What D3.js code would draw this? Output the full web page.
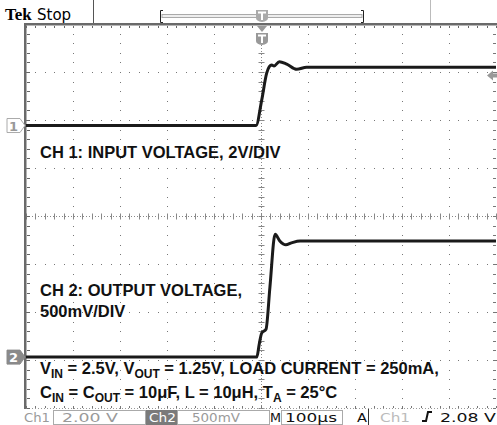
<!DOCTYPE html>
<html>
<head>
<meta charset="utf-8">
<script src="https://cdn.jsdelivr.net/npm/d3@7"></script>
<style>
body { margin: 0; background: #fff; }
svg { display: block; }
.note { font-family: "Liberation Sans", Arial, sans-serif; font-weight: bold; font-size: 16.5px; fill: #111; }
.stat { font-family: "DejaVu Sans", sans-serif; font-size: 13px; }
</style>
</head>
<body>
<div id="scope"></div>
<script>
// traces: time in us from the trigger point, volts
var ch1Time  = [-500, -10.6, 1.5, 12.1, 17.7, 22.8, 27.7, 38.9, 54.7, 76, 97, 500];
var ch1Volts = [0, 0, 1.06, 2.18, 2.45, 2.52, 2.48, 2.66, 2.56, 2.34, 2.43, 2.43];
var ch2Time  = [-500, -9, -3.6, 1.5, 10.6, 19, 30, 40, 53, 65, 83, 500];
var ch2Volts = [0, 0, 0.14, 0.25, 0.29, 0.73, 1.28, 1.21, 1.17, 1.19, 1.21, 1.21];

// scope settings
var voltsPerDiv = [2, 0.5];
var timePerDiv = 100;
var triggerLevel = 2.08;

// readout labels
var statusLabels = ["Ch1", "2.00 V", "Ch2", "500mV", "M", "100\u03bcs", "A", "Ch1", "2.08 V"];
var noteCh1 = ["CH 1: INPUT VOLTAGE, 2V/DIV"];
var noteCh2 = ["CH 2: OUTPUT VOLTAGE,", "500mV/DIV"];
var noteLine1 = [["V", 0], ["IN", 1], [" = 2.5V, V", 0], ["OUT", 1], [" = 1.25V, LOAD CURRENT = 250mA,", 0]];
var noteLine2 = [["C", 0], ["IN", 1], [" = C", 0], ["OUT", 1], [" = 10\u03bcF, L = 10\u03bcH, T", 0], ["A", 1], [" = 25\u00b0C", 0]];

var svgWidth = 497;
var svgHeight = 425;

var svg = d3.select("#scope")
  .append("svg")
  .attr("width", svgWidth)
  .attr("height", svgHeight);

// graticule: 10 x 8 divisions
var x = d3.scaleLinear().domain([-5 * timePerDiv, 5 * timePerDiv]).range([26, 496]);
var yDiv = d3.scaleLinear().domain([4, -4]).range([24, 408]);

// channel ground positions in divisions
var chPos = [1.885, -2.94];
function yCh(i, v) { return yDiv(chPos[i] + v / voltsPerDiv[i]); }

var grid = svg.append("g");
var fifths = d3.range(-20, 21).map(d => d / 5);
var fifthsT = d3.range(-25, 26).map(d => d * timePerDiv / 5);

// vertical dotted lines
d3.range(-4, 5).filter(d => d != 0).forEach(function(k) {
  var xx = Math.round(x(k * timePerDiv));
  grid.selectAll(null).data(fifths).enter().append("rect")
    .attr("x", xx).attr("y", d => Math.round(yDiv(d)))
    .attr("width", 1).attr("height", 1).attr("fill", "#777");
});
// horizontal dotted lines
d3.range(-3, 4).filter(d => d != 0).forEach(function(k) {
  var yy = Math.round(yDiv(k));
  grid.selectAll(null).data(fifthsT).enter().append("rect")
    .attr("x", d => Math.round(x(d))).attr("y", yy)
    .attr("width", 1).attr("height", 1).attr("fill", "#777");
});

// centre lines with ticks
var cx = Math.round(x(0)) + 0.5, cy = Math.round(yDiv(0)) + 0.5;
grid.append("line").attr("x1", cx).attr("x2", cx).attr("y1", 24).attr("y2", 408)
  .attr("stroke", "#888").attr("stroke-dasharray", "1,2");
grid.append("line").attr("x1", 26).attr("x2", 496).attr("y1", cy).attr("y2", cy)
  .attr("stroke", "#888").attr("stroke-dasharray", "1,2");
grid.selectAll(null).data(fifths).enter().append("line")
  .attr("x1", cx - 3).attr("x2", cx + 3)
  .attr("y1", d => Math.round(yDiv(d)) + 0.5).attr("y2", d => Math.round(yDiv(d)) + 0.5)
  .attr("stroke", "#888");
grid.selectAll(null).data(fifthsT).enter().append("line")
  .attr("y1", cy - 3).attr("y2", cy + 3)
  .attr("x1", d => Math.round(x(d)) + 0.5).attr("x2", d => Math.round(x(d)) + 0.5)
  .attr("stroke", "#888");

// edges
grid.selectAll(null).data(fifthsT).enter().append("rect")
  .attr("x", d => Math.round(x(d))).attr("y", 406).attr("width", 1).attr("height", 2).attr("fill", "#777");
grid.append("line").attr("x1", 26).attr("x2", 496).attr("y1", 408.5).attr("y2", 408.5)
  .attr("stroke", "#999").attr("stroke-dasharray", "1,2");
grid.selectAll(null).data(fifths).enter().append("rect")
  .attr("x", 493).attr("y", d => Math.round(yDiv(d))).attr("width", 3).attr("height", 1).attr("fill", "#777");
grid.selectAll(null).data(fifthsT).enter().append("rect")
  .attr("x", d => Math.round(x(d))).attr("y", 26).attr("width", 1).attr("height", 2).attr("fill", "#666");
grid.selectAll(null).data(fifths).enter().append("rect")
  .attr("x", 27).attr("y", d => Math.round(yDiv(d))).attr("width", 3).attr("height", 1).attr("fill", "#666");
grid.append("rect").attr("x", 24).attr("y", 23).attr("width", 473).attr("height", 2.5).attr("fill", "#6a6a6a");
grid.append("rect").attr("x", 24).attr("y", 23).attr("width", 2.5).attr("height", 386).attr("fill", "#6a6a6a");

// notes
function addNote(parts, px, py) {
  var t = svg.append("text").attr("class", "note").attr("x", px).attr("y", py);
  var shifted = false;
  parts.forEach(function(p) {
    var ts = t.append("tspan").text(p[0]);
    if (p[1] && !shifted) { ts.attr("dy", 4).style("font-size", "12px"); shifted = true; }
    else if (p[1]) { ts.style("font-size", "12px"); }
    else if (shifted) { ts.attr("dy", -4); shifted = false; }
  });
}
addNote([[noteCh1[0], 0]], 40, 158);
addNote([[noteCh2[0], 0]], 40, 296);
addNote([[noteCh2[1], 0]], 40, 317);
addNote(noteLine1, 40, 374);
addNote(noteLine2, 40, 398);

// traces
var line = d3.line().curve(d3.curveMonotoneX);
var ch1 = ch1Time.map((t, i) => [x(t), yCh(0, ch1Volts[i])]);
var ch2 = ch2Time.map((t, i) => [x(t), yCh(1, ch2Volts[i])]);
[ch1, ch2].forEach(function(pts) {
  svg.append("path").attr("d", line(pts))
    .attr("fill", "none").attr("stroke", "#1a1a1a").attr("stroke-width", 3)
    .attr("stroke-linejoin", "round");
});

// channel ground markers
function chMarker(yy, filled, label) {
  svg.append("path")
    .attr("d", `M7,${yy - 7} H20 L25,${yy} L20,${yy + 7} H7 Z`)
    .attr("fill", filled ? "#8a8a8a" : "#fff")
    .attr("stroke", filled ? "#8a8a8a" : "#aaa");
  svg.append("text").attr("x", 13.5).attr("y", yy + 5).attr("text-anchor", "middle")
    .style("font-family", "DejaVu Sans").style("font-weight", "bold").style("font-size", "13px")
    .attr("fill", filled ? "#fff" : "#999").text(label);
}
chMarker(yCh(0, 0), false, "1");
chMarker(yCh(1, 0), true, "2");

// trigger level arrow
var ty = yCh(0, triggerLevel);
svg.append("path")
  .attr("d", `M487,${ty} L493,${ty - 5} V${ty - 2} H497 V${ty + 2} H493 V${ty + 5} Z`)
  .attr("fill", "#999");

// trigger position markers
function tMarker(mx, top, h, col) {
  svg.append("path")
    .attr("d", `M${mx - 6},${top} H${mx + 6} V${top + h - 4} Q${mx + 6},${top + h - 1} ${mx},${top + h} Q${mx - 6},${top + h - 1} ${mx - 6},${top + h - 4} Z`)
    .attr("fill", col);
  svg.append("path")
    .attr("d", `M${mx - 4},${top + 2.5} H${mx + 4} M${mx},${top + 2.5} V${top + h - 2}`)
    .attr("stroke", "#fff").attr("stroke-width", 2);
}
var tx = x(0) + 1;
svg.append("path").attr("d", `M${tx - 5},26 H${tx + 5} L${tx},32 Z`).attr("fill", "#999");
tMarker(tx, 33, 12, "#999");

// top bar
svg.append("text").attr("x", 5).attr("y", 20)
  .style("font-family", "Liberation Serif").style("font-weight", "bold").style("font-size", "17px")
  .text("Tek");
svg.append("text").attr("x", 37).attr("y", 20)
  .style("font-family", "DejaVu Sans").style("font-size", "15px").text("Stop");
svg.append("line").attr("x1", 93.5).attr("x2", 93.5).attr("y1", 0).attr("y2", 23).attr("stroke", "#555");
svg.append("line").attr("x1", 430.5).attr("x2", 430.5).attr("y1", 0).attr("y2", 23).attr("stroke", "#bbb");
svg.append("rect").attr("x", 162).attr("y", 14.5).attr("width", 200).attr("height", 3)
  .attr("fill", "#eee").attr("stroke", "#aaa");
svg.append("path").attr("d", "M163,10.5 H160.5 V22.5 H163 M361,10.5 H363.5 V22.5 H361")
  .attr("fill", "none").attr("stroke", "#222");
tMarker(262, 10, 12, "#aaa");

// readout boxes
var boxes = [[53, 145], [177, 269], [281, 342]];
boxes.forEach(function(b) {
  svg.append("rect").attr("x", b[0] + 0.5).attr("y", 410.5).attr("width", b[1] - b[0]).attr("height", 14)
    .attr("fill", "none").attr("stroke", "#aaa");
});
svg.append("rect").attr("x", 146).attr("y", 410).attr("width", 31).attr("height", 15).attr("fill", "#7a7a7a");
svg.append("line").attr("x1", 368.5).attr("x2", 368.5).attr("y1", 409).attr("y2", 425).attr("stroke", "#333");

var statX = [24, 62, 149, 192, 270, 285, 357, 380, 440];
var statW = [26, 56, 27, 48, 11, 52, 10, 30, 56];
var statC = ["#9a9a9a", "#9a9a9a", "#fff", "#9a9a9a", "#111", "#111", "#111", "#bbb", "#111"];
svg.selectAll(null).data(statusLabels).enter().append("text")
  .attr("class", "stat")
  .attr("x", (d, i) => statX[i]).attr("y", 422)
  .attr("textLength", (d, i) => statW[i]).attr("lengthAdjust", "spacingAndGlyphs")
  .attr("fill", (d, i) => statC[i])
  .text(d => d);
// rising edge symbol
svg.append("path").attr("d", "M422,421 H426 L428,412 H432")
  .attr("fill", "none").attr("stroke", "#111").attr("stroke-width", 2);
</script>
</body>
</html>
